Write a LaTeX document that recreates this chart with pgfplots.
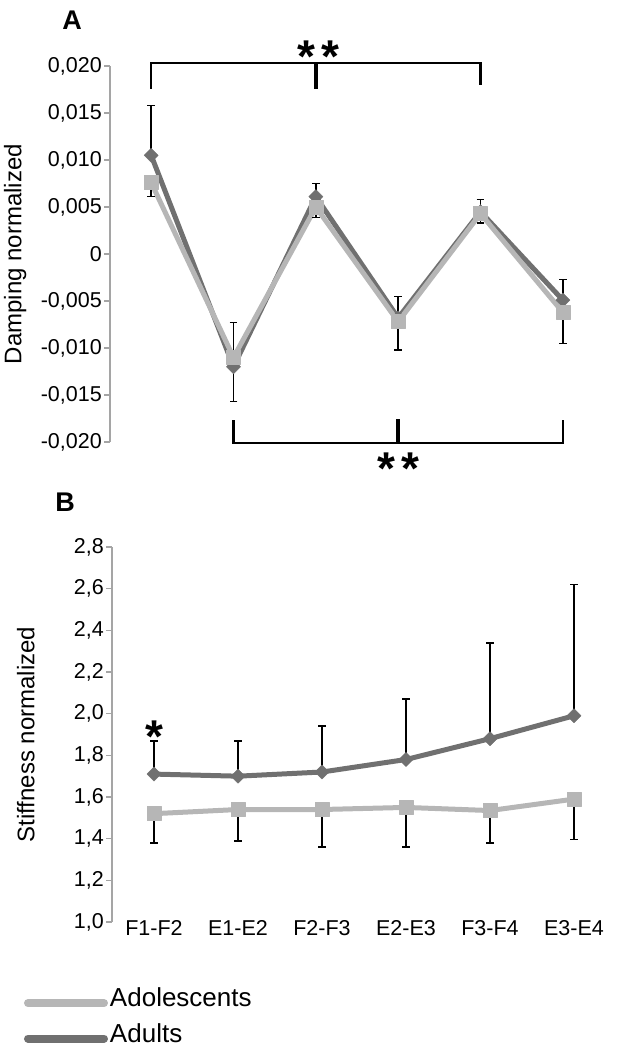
\documentclass[border=0pt]{standalone}
\usepackage{fontspec}
\setmainfont{Liberation Sans}
\usepackage{pgfplots}
\usepackage{pgfplotstable}
\pgfplotsset{compat=1.18}
\definecolor{adult}{RGB}{112,112,112}
\definecolor{adol}{RGB}{182,182,182}
\definecolor{axgray}{RGB}{165,165,165}

% Damping: x, adults, adults +err, adolescents, adolescents -err
\pgfplotstableread{
x adu adue ado adoe
0 0.0105 0.0053 0.0076 0.0015
1 -0.0120 0.0047 -0.0110 0.0047
2 0.0061 0.0014 0.0050 0.0011
3 -0.0068 0.0023 -0.0072 0.0030
4 0.0045 0.0013 0.0043 0.0010
5 -0.0049 0.0022 -0.0062 0.0033
}\dampdata

% Stiffness
\pgfplotstableread{
x adu adue ado adoe
0 1.71 0.16 1.52 0.14
1 1.70 0.17 1.54 0.15
2 1.72 0.22 1.54 0.18
3 1.78 0.29 1.55 0.19
4 1.88 0.46 1.535 0.155
5 1.99 0.63 1.59 0.195
}\stiffdata

\tikzset{stars/.style={anchor=base, inner sep=0pt, font=\fontsize{46}{50}\selectfont\bfseries, yshift=-26pt}}

\pgfplotsset{
  common/.style={
    scale only axis, clip=false,
    xmin=-0.5, xmax=5.5,
    scaled y ticks=false,
    axis y line*=left, axis x line*=bottom,
    x axis line style={draw=none},
    xtick style={draw=none},
    y axis line style={axgray, line width=1.6pt},
    ytick style={axgray, line width=1.6pt},
    major tick length=6pt, tick align=outside,
    yticklabel style={font=\fontsize{21.5}{24}\selectfont, text=black, inner sep=2pt},
    ylabel style={font=\fontsize{24}{28}\selectfont, anchor=center},
  },
  adultstyle/.style={adult, line width=5pt, line join=round,
    mark=square*, mark size=5pt, mark options={rotate=45, solid, line width=0.4pt},
    error bars/.cd, y dir=plus, y explicit,
    error bar style={black, line width=1.5pt},
    error mark=-,
    error mark options={rotate=90, black, line width=1.5pt, mark size=3.8pt}},
  adolstyle/.style={adol, line width=5pt, line join=round,
    mark=square*, mark size=7pt, mark options={solid, line width=0.4pt},
    error bars/.cd, y dir=minus, y explicit,
    error bar style={black, line width=1.5pt},
    error mark=-,
    error mark options={rotate=90, black, line width=1.5pt, mark size=3.8pt}},
}

\begin{document}
\begin{tikzpicture}
\useasboundingbox (0pt,0pt) rectangle (618pt,-1048pt);

% ---------------- Panel A ----------------
\begin{axis}[common,
  at={(110pt,-442pt)}, anchor=south west,
  width=494pt, height=376pt,
  ymin=-0.02, ymax=0.02,
  ytick={-0.02,-0.015,-0.01,-0.005,0,0.005,0.01,0.015,0.02},
  yticklabels={{-0,020},{-0,015},{-0,010},{-0,005},{0},{0,005},{0,010},{0,015},{0,020}},
  xtick=\empty,
  ylabel={Damping normalized},
  ylabel style={at={(axis description cs:-0.192,0.5)}},
]
\addplot[adultstyle] table[x=x, y=adu, y error=adue]{\dampdata};
\addplot[adolstyle] table[x=x, y=ado, y error=adoe]{\dampdata};
% significance brackets
\draw[black, line width=2.5pt] (axis cs:0,0.0176) -- (axis cs:0,0.0203) -- (axis cs:4,0.0203) -- (axis cs:4,0.0180);
\draw[black, line width=3.5pt] (axis cs:2,0.0203) -- (axis cs:2,0.0176);
\node[stars] at (axis cs:2.03,0.0221) {*\hspace{6pt}*};
\draw[black, line width=2.5pt] (axis cs:1,-0.0177) -- (axis cs:1,-0.0201) -- (axis cs:5,-0.0201) -- (axis cs:5,-0.0177);
\draw[black, line width=3.5pt] (axis cs:3,-0.0201) -- (axis cs:3,-0.0176);
\node[stars] at (axis cs:3,-0.0218) {*\hspace{6pt}*};
\end{axis}

% ---------------- Panel B ----------------
\begin{axis}[common,
  at={(112pt,-922pt)}, anchor=south west,
  width=504pt, height=375pt,
  ymin=1.0, ymax=2.8,
  ytick={1.0,1.2,1.4,1.6,1.8,2.0,2.2,2.4,2.6,2.8},
  yticklabels={{1,0},{1,2},{1,4},{1,6},{1,8},{2,0},{2,2},{2,4},{2,6},{2,8}},
  xtick={0,1,2,3,4,5},
  xticklabels={F1-F2,E1-E2,F2-F3,E2-E3,F3-F4,E3-E4},
  xticklabel style={font=\fontsize{21.5}{24}\selectfont, anchor=base, yshift=-7pt},
  ylabel={Stiffness normalized},
  ylabel style={at={(axis description cs:-0.171,0.5)}},
  legend style={at={(axis description cs:-0.1746,-0.176)}, anchor=north west,
    draw=none, fill=none, inner sep=0pt, outer sep=0pt, row sep=15pt,
    font=\fontsize{26}{30}\selectfont,
    nodes={inner sep=0pt},
    /tikz/every odd column/.style={column sep=2pt}},
  legend cell align=left,
  legend image code/.code={\draw[line width=8pt, line cap=round] (0pt,-5pt) -- (76pt,-5pt);},
]
\addplot[adolstyle] table[x=x, y=ado, y error=adoe]{\stiffdata};
\addlegendentry{Adolescents}
\addplot[adultstyle] table[x=x, y=adu, y error=adue]{\stiffdata};
\addlegendentry{Adults}
\node[stars] at (axis cs:0,1.94) {*};
\end{axis}

% panel letters
\node[font=\fontsize{27}{30}\selectfont\bfseries] at (72pt,-20pt) {A};
\node[font=\fontsize{27}{30}\selectfont\bfseries] at (65pt,-502pt) {B};
\end{tikzpicture}
\end{document}
